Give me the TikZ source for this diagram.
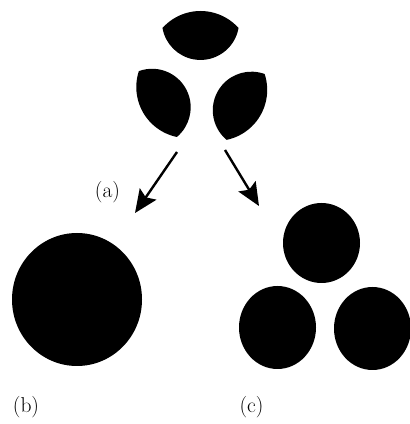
\documentclass[tikz,border=0pt]{standalone}
\usepackage{fontspec}
\usetikzlibrary{arrows.meta,shapes.geometric}
\begin{document}
\begin{tikzpicture}[x=1pt,y=1pt,
  piece/.style={fill=black},
  blob/.style={ellipse,fill=black,inner sep=0pt,draw=none},
  arr/.style={line width=2.4pt,-{Stealth[length=23pt,width=20pt,inset=4pt]}},
  lab/.style={inner sep=0pt,font=\fontsize{21.5}{25}\selectfont}]
\useasboundingbox (0,0) rectangle (410,424);
% three lens-shaped pieces
\foreach \r/\dx/\dy in {0/0/-1,120/4/2,240/0/0}{
  \begin{scope}[shift={(200+\dx,344+\dy)},rotate=\r]
    \fill[piece] (-37.5,53) arc[start angle=138.2,end angle=41.8,radius=51]
      arc[start angle=-9.9,end angle=-170.1,radius=38.6] -- cycle;
  \end{scope}
}
% arrows
\coordinate (la) at (177,272);
\coordinate (lb) at (135,211);
\coordinate (ra) at (225,274);
\coordinate (rb) at (259,218);
\draw[arr] (la) -- (lb);
\draw[arr] (ra) -- (rb);
\node[lab] (a) at (107.5,232) {(a)};
% (b) single sphere
\node[blob,minimum width=130pt,minimum height=133pt] (B) at (77,124.5) {};
% (c) three spheres
\node[blob,minimum width=77pt,minimum height=80pt] (C1) at (321.5,181) {};
\node[blob,minimum width=77pt,minimum height=83pt] (C2) at (277.5,96.5) {};
\node[blob,minimum width=77pt,minimum height=83pt] (C3) at (372.5,95.5) {};
\node[lab] (b) at (26,16.5) {(b)};
\node[lab] (c) at (251.5,17) {(c)};
\end{tikzpicture}
\end{document}
